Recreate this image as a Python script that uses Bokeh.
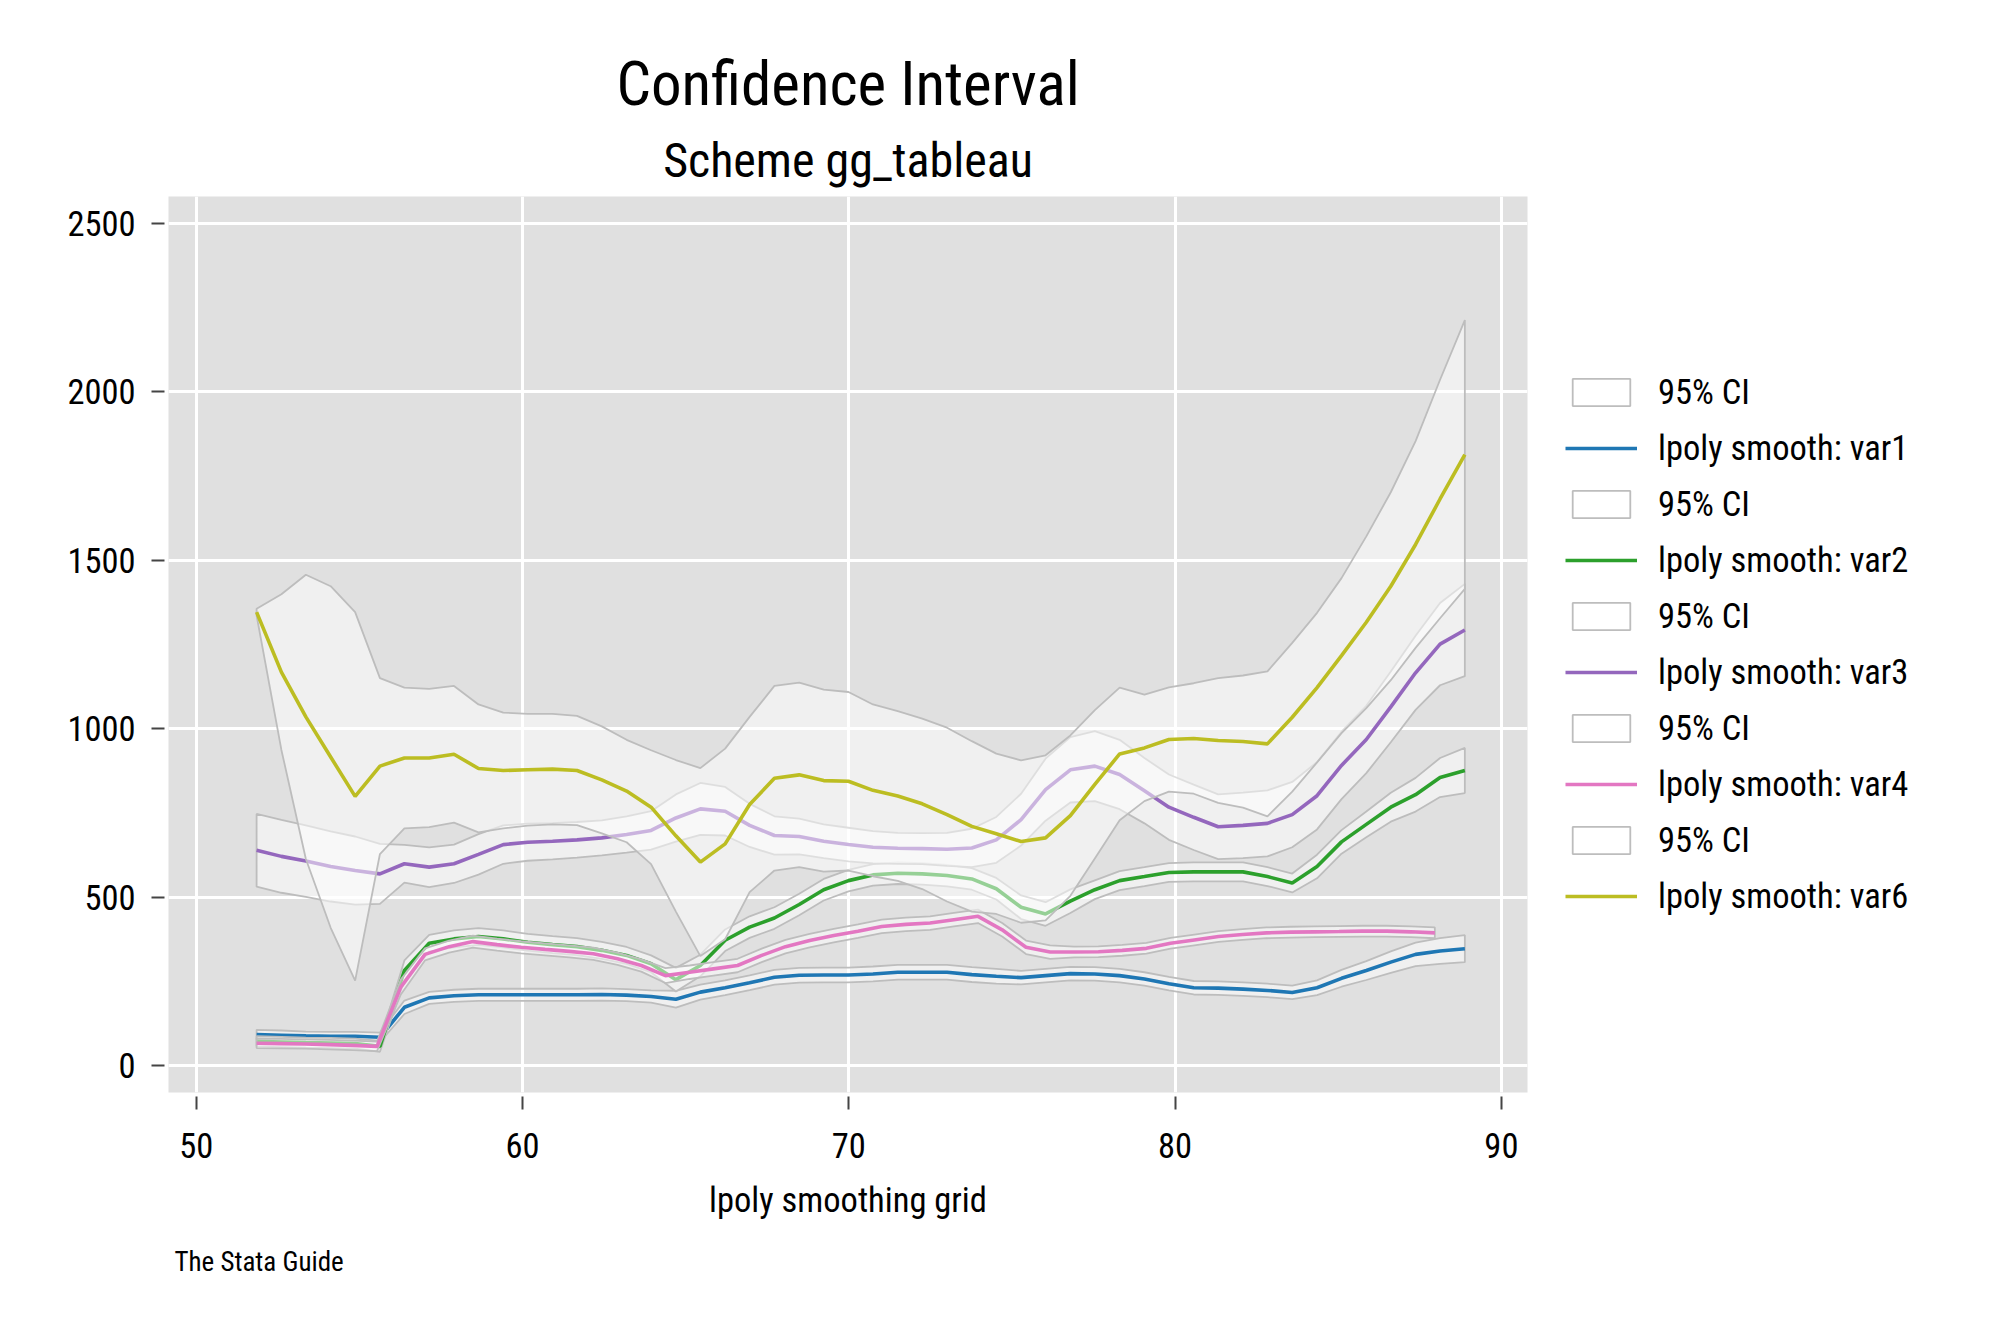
from bokeh.plotting import figure
from bokeh.models import Range1d, FixedTicker, Legend, LegendItem, Title
from bokeh.embed import file_html
from bokeh.resources import INLINE

FONT = "Roboto Condensed"
TXT = "34.5px"

# lpoly smoothing grid (vars 1, 2, 3, 6)
grid_x = [51.85, 52.61, 53.36, 54.12, 54.87, 55.63, 56.38, 57.14, 57.90, 58.65,
          59.41, 60.16, 60.92, 61.67, 62.43, 63.19, 63.94, 64.70, 65.45, 66.21,
          66.96, 67.72, 68.48, 69.23, 69.99, 70.74, 71.50, 72.25, 73.01, 73.77,
          74.52, 75.28, 76.03, 76.79, 77.54, 78.30, 79.06, 79.81, 80.57, 81.32,
          82.08, 82.83, 83.59, 84.35, 85.10, 85.86, 86.61, 87.37, 88.12, 88.88]
# lpoly smoothing grid (var4)
grid_x4 = [51.85, 52.59, 53.32, 54.06, 54.80, 55.54, 56.27, 57.01, 57.75, 58.48,
           59.22, 59.96, 60.69, 61.43, 62.17, 62.91, 63.64, 64.38, 65.12, 65.85,
           66.59, 67.33, 68.06, 68.80, 69.54, 70.28, 71.01, 71.75, 72.49, 73.22,
           73.96, 74.70, 75.43, 76.17, 76.91, 77.65, 78.38, 79.12, 79.86, 80.59,
           81.33, 82.07, 82.80, 83.54, 84.28, 85.02, 85.75, 86.49, 87.23, 87.96]

var1 = [92, 90, 88, 87, 87, 84, 173, 201, 207, 210,
        210, 210, 210, 210, 211, 209, 205, 197, 218, 231,
        246, 262, 268, 269, 269, 272, 277, 277, 277, 270,
        265, 261, 267, 273, 272, 267, 257, 243, 231, 230,
        227, 223, 217, 231, 259, 282, 307, 330, 340, 347]
var1_ci = [14, 14, 13, 13, 13, 14, 20, 18, 18, 18,
           18, 18, 18, 18, 18, 18, 18, 25, 22, 22,
           22, 22, 22, 22, 22, 22, 22, 22, 22, 22,
           22, 20, 20, 20, 20, 20, 20, 20, 20, 20,
           20, 20, 20, 22, 25, 28, 32, 35, 38, 40]

var2 = [72, 70, 68, 67, 65, 57, 282, 363, 376, 383,
        376, 366, 359, 353, 342, 327, 302, 255, 297, 372,
        411, 438, 478, 522, 549, 566, 571, 569, 564, 554,
        525, 470, 450, 488, 522, 549, 561, 573, 575, 575,
        575, 561, 542, 591, 664, 716, 767, 804, 855, 876]
var2_ci = [15, 15, 15, 15, 15, 16, 30, 25, 25, 25,
           25, 25, 25, 25, 25, 25, 25, 35, 32, 32,
           32, 32, 32, 32, 32, 32, 32, 32, 32, 32,
           32, 35, 35, 35, 28, 28, 28, 28, 28, 28,
           28, 28, 28, 35, 35, 38, 43, 50, 58, 67]

var3 = [639, 621, 607, 591, 579, 569, 599, 589, 599, 627,
        656, 663, 666, 670, 676, 686, 698, 735, 762, 755,
        713, 683, 680, 666, 656, 648, 645, 644, 642, 646,
        670, 730, 819, 878, 889, 864, 816, 767, 737, 709,
        713, 719, 745, 801, 891, 968, 1065, 1166, 1251, 1293]
var3_ci = [108, 108, 106, 104, 101, 89, 56, 59, 57, 60,
           57, 55, 54, 53, 52, 54, 57, 70, 77, 72,
           64, 57, 53, 50, 50, 48, 46, 46, 49, 57,
           68, 77, 92, 97, 104, 103, 97, 97, 97, 96,
           97, 98, 97, 100, 100, 100, 105, 110, 122, 137]

var4 = [66, 65, 64, 62, 60, 57, 233, 330, 353, 368,
        359, 351, 345, 339, 332, 317, 297, 267, 277, 287,
        297, 327, 353, 371, 386, 399, 413, 419, 423, 433,
        443, 403, 351, 337, 337, 338, 342, 348, 363, 373,
        383, 389, 394, 396, 397, 398, 399, 399, 397, 394]
var4_ci = [14, 14, 14, 14, 14, 14, 22, 18, 18, 18,
           18, 18, 18, 18, 18, 18, 18, 22, 20, 20,
           20, 20, 20, 20, 20, 20, 20, 20, 20, 20,
           20, 20, 20, 20, 16, 16, 16, 16, 16, 16,
           16, 16, 16, 16, 16, 16, 16, 16, 16, 16]

var6 = [1346, 1168, 1035, 916, 799, 889, 913, 913, 924, 882,
        876, 878, 880, 876, 848, 815, 767, 682, 604, 658,
        775, 853, 863, 846, 844, 817, 800, 777, 745, 710,
        688, 665, 676, 742, 835, 925, 943, 968, 971, 965,
        962, 955, 1034, 1122, 1217, 1316, 1423, 1547, 1682, 1814]
var6_ci = [10, 231, 422, 507, 547, 261, 209, 205, 203, 190,
           172, 166, 164, 162, 159, 152, 169, 225, 279, 283,
           260, 274, 274, 270, 265, 255, 252, 253, 258, 253,
           238, 241, 245, 238, 220, 197, 158, 155, 164, 185,
           196, 215, 221, 222, 230, 255, 279, 307, 354, 399]

x_ticks = [50, 60, 70, 80, 90]
y_ticks = [0, 500, 1000, 1500, 2000, 2500]

series = [
    ("var1", grid_x, var1, var1_ci, "#1f77b4"),
    ("var2", grid_x, var2, var2_ci, "#2ca02c"),
    ("var3", grid_x, var3, var3_ci, "#9467bd"),
    ("var4", grid_x4, var4, var4_ci, "#e377c2"),
    ("var6", grid_x, var6, var6_ci, "#bcbd22"),
]

p = figure(title=None, frame_width=1359, frame_height=896,
           min_border_left=168, min_border_right=460,
           min_border_top=196, min_border_bottom=230,
           x_range=Range1d(49.15, 90.8), y_range=Range1d(-80, 2580),
           output_backend="svg", toolbar_location=None)

p.background_fill_color = "#e0e0e0"
p.border_fill_color = "white"
p.outline_line_color = None

for ax, ticks, standoff in ((p.xaxis[0], x_ticks, 23), (p.yaxis[0], y_ticks, 16)):
    ax.ticker = FixedTicker(ticks=ticks)
    ax.axis_line_color = None
    ax.major_tick_line_color = "#444444"
    ax.major_tick_line_width = 2
    ax.major_tick_in = -4
    ax.major_tick_out = 17
    ax.minor_tick_line_color = None
    ax.major_label_text_font = FONT
    ax.major_label_text_font_size = TXT
    ax.major_label_text_color = "black"
    ax.major_label_standoff = standoff

p.xaxis.axis_label = "lpoly smoothing grid"
p.xaxis.axis_label_text_font = FONT
p.xaxis.axis_label_text_font_size = TXT
p.xaxis.axis_label_text_font_style = "normal"
p.xaxis.axis_label_text_color = "black"
p.xaxis.axis_label_standoff = 19

p.xgrid.ticker = FixedTicker(ticks=x_ticks)
p.ygrid.ticker = FixedTicker(ticks=y_ticks)
for g in (p.xgrid[0], p.ygrid[0]):
    g.grid_line_color = "white"
    g.grid_line_width = 3

items = []
for name, xs, ys, half, col in series:
    up = [y + h for y, h in zip(ys, half)]
    lo = [y - h for y, h in zip(ys, half)]
    r_ci = p.patch(xs + xs[::-1], up + lo[::-1], fill_color="white", fill_alpha=0.5,
                   line_color="#bdbdbd", line_width=1.8)
    r_ln = p.line(xs, ys, line_color=col, line_width=3.6)
    items.append(LegendItem(label="95% CI", renderers=[r_ci]))
    items.append(LegendItem(label="lpoly smooth: " + name, renderers=[r_ln]))

legend = Legend(items=items, location="center_left", orientation="vertical",
                label_text_font=FONT, label_text_font_size=TXT, label_text_color="black",
                glyph_width=72, glyph_height=34, label_height=42, label_standoff=21,
                spacing=14, padding=0, margin=38,
                border_line_color=None, background_fill_alpha=0)
p.add_layout(legend, "right")

p.add_layout(Title(text="Scheme gg_tableau", align="center", text_font=FONT,
                   text_font_size="48px", text_font_style="normal", text_color="black",
                   standoff=15), "above")
p.add_layout(Title(text="Confidence Interval", align="center", text_font=FONT,
                   text_font_size="61px", text_font_style="normal", text_color="black",
                   standoff=5), "above")
p.add_layout(Title(text="The Stata Guide", align="left", offset=6, text_font=FONT,
                   text_font_size="27px", text_font_style="normal", text_color="black",
                   standoff=42), "below")

open("out.html", "w").write(file_html(p, INLINE))
